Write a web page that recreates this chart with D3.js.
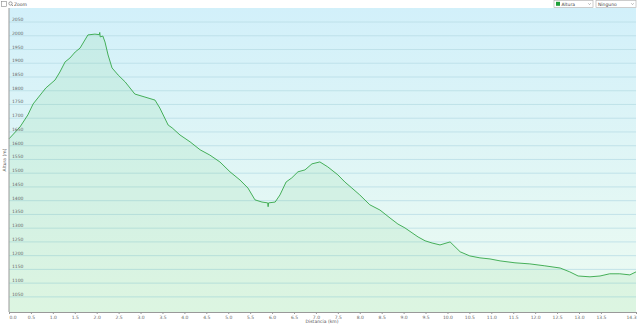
<!DOCTYPE html>
<html>
<head>
<meta charset="utf-8">
<script src="https://cdn.jsdelivr.net/npm/d3@7"></script>
<style>
  body { margin: 0; background: #fff; }
  svg { display: block; font-family: "DejaVu Sans", sans-serif; }
</style>
</head>
<body>
<svg id="chart" width="640" height="324"></svg>
<script>
// profile: distance (km) and altitude (m)
var distancia = [0.00, 0.25, 0.43, 0.55, 0.75, 0.84, 1.05, 1.16, 1.28, 1.39, 1.51, 1.62, 1.80, 1.96, 2.06, 2.07, 2.08,
  2.14, 2.19, 2.26, 2.35, 2.49, 2.65, 2.87, 3.10, 3.33, 3.44, 3.63, 3.72, 3.90, 4.13, 4.36, 4.58, 4.81, 5.04, 5.27,
  5.45, 5.61, 5.77, 5.90, 5.91, 5.92, 6.07, 6.18, 6.32, 6.45, 6.59, 6.75, 6.91, 7.09, 7.27, 7.50, 7.66, 7.82, 8.00, 8.23,
  8.46, 8.69, 8.87, 9.03, 9.33, 9.49, 9.65, 9.83, 10.06, 10.29, 10.51, 10.74, 10.97, 11.20, 11.54, 11.88,
  12.22, 12.57, 12.79, 12.98, 13.25, 13.48, 13.70, 13.93, 14.16, 14.30];
var altura = [1625, 1668, 1712, 1752, 1792, 1810, 1839, 1868, 1905, 1919, 1941, 1955, 2003, 2006, 2004, 2012, 1996,
  1999, 1977, 1930, 1883, 1857, 1832, 1788, 1777, 1766, 1737, 1675, 1665, 1639, 1614, 1585, 1566, 1541, 1505, 1475,
  1446, 1403, 1395, 1392, 1378, 1392, 1395, 1421, 1468, 1483, 1505, 1512, 1534, 1541, 1523, 1494, 1468, 1446, 1421, 1385,
  1366, 1337, 1315, 1301, 1268, 1254, 1246, 1239, 1250, 1214, 1199, 1192, 1188, 1181, 1174, 1170,
  1163, 1155, 1141, 1126, 1123, 1126, 1134, 1134, 1130, 1141];

var yTicks = [1050, 1100, 1150, 1200, 1250, 1300, 1350, 1400, 1450, 1500, 1550, 1600, 1650, 1700, 1750,
  1800, 1850, 1900, 1950, 2000, 2050];
var xTicks = [0, 0.5, 1, 1.5, 2, 2.5, 3, 3.5, 4, 4.5, 5, 5.5, 6, 6.5, 7, 7.5, 8, 8.5, 9, 9.5, 10, 10.5,
  11, 11.5, 12, 12.5, 13, 13.5, 14.3];

var data = distancia.map(function(d, i) { return {d: d, h: altura[i]}; });

var svg = d3.select("#chart");
var pLeft = 9, pRight = 636, pTop = 8, pBottom = 312;

var x = d3.scaleLinear().domain([0, 14.3]).range([pLeft, pRight]);
var y = d3.scaleLinear().domain([995, 2101]).range([pBottom, pTop]);

// background gradient, blue at top to pale green at bottom
var defs = svg.append("defs");
var grad = defs.append("linearGradient").attr("id", "bg").attr("x1", 0).attr("y1", 0).attr("x2", 0).attr("y2", 1);
grad.append("stop").attr("offset", "0%").attr("stop-color", "#d2f0fa");
grad.append("stop").attr("offset", "100%").attr("stop-color", "#edfbf1");

svg.append("rect")
  .attr("x", pLeft).attr("y", pTop)
  .attr("width", pRight - pLeft).attr("height", pBottom - pTop)
  .attr("fill", "url(#bg)");

// horizontal grid
svg.append("g").selectAll("line")
  .data(yTicks)
  .enter().append("line")
  .attr("x1", pLeft).attr("x2", pRight)
  .attr("y1", function(d) { return y(d); })
  .attr("y2", function(d) { return y(d); })
  .attr("stroke", "#b9dde6")
  .attr("stroke-width", 0.8);

// area + line
var area = d3.area()
  .x(function(d) { return x(d.d); })
  .y0(pBottom)
  .y1(function(d) { return y(d.h); });

var line = d3.line()
  .x(function(d) { return x(d.d); })
  .y(function(d) { return y(d.h); });

svg.append("path").datum(data)
  .attr("d", area)
  .attr("fill", "#4cc35a")
  .attr("fill-opacity", 0.1);

svg.append("path").datum(data)
  .attr("d", line)
  .attr("fill", "none")
  .attr("stroke", "#34a748")
  .attr("stroke-width", 0.9);

// y tick labels sit inside the plot, just above each gridline
svg.append("g").selectAll("text")
  .data(yTicks)
  .enter().append("text")
  .attr("x", 12)
  .attr("y", function(d) { return y(d) - 1; })
  .attr("font-size", 4.5)
  .attr("fill", "#666")
  .text(function(d) { return d; });

// axes lines
svg.append("line")
  .attr("x1", pLeft).attr("x2", pLeft).attr("y1", pTop).attr("y2", pBottom)
  .attr("stroke", "#999").attr("stroke-width", 1);

var xAxis = d3.axisBottom(x)
  .tickValues(xTicks)
  .tickSize(2)
  .tickFormat(d3.format(".1f"));

var gx = svg.append("g")
  .attr("transform", "translate(0," + pBottom + ")")
  .call(xAxis);
gx.select(".domain").attr("stroke", "#999");
gx.selectAll(".tick line").attr("stroke", "#999");
gx.selectAll("text")
  .attr("font-size", 4.5)
  .attr("fill", "#666")
  .attr("dy", "0.4em")
  .attr("font-family", "DejaVu Sans, sans-serif");
gx.selectAll(".tick").filter(function(d) { return d === 0; }).select("text").attr("text-anchor", "start");
gx.selectAll(".tick").filter(function(d) { return d === 14.3; }).select("text").attr("text-anchor", "end");

// axis titles
svg.append("text")
  .attr("x", 322).attr("y", 323)
  .attr("text-anchor", "middle")
  .attr("font-size", 4.5)
  .attr("fill", "#555")
  .text("Distancia (km)");

svg.append("text")
  .attr("transform", "translate(6,160) rotate(-90)")
  .attr("text-anchor", "middle")
  .attr("font-size", 4.5)
  .attr("fill", "#555")
  .text("Altura (m)");

// zoom control top left
svg.append("rect").attr("x", 1.5).attr("y", 1.5).attr("width", 5).attr("height", 5)
  .attr("fill", "#fff").attr("stroke", "#888").attr("stroke-width", 0.6);
svg.append("circle").attr("cx", 10.5).attr("cy", 3.5).attr("r", 1.7)
  .attr("fill", "none").attr("stroke", "#666").attr("stroke-width", 0.6);
svg.append("line").attr("x1", 11.7).attr("y1", 4.7).attr("x2", 13).attr("y2", 6)
  .attr("stroke", "#666").attr("stroke-width", 0.7);
svg.append("text").attr("x", 14).attr("y", 5.5).attr("font-size", 4.5).attr("fill", "#444").text("Zoom");

// two dropdowns top right
var selects = [{x: 554, w: 39, label: "Altura", swatch: true}, {x: 596, w: 40, label: "Ninguno", swatch: false}];
var sel = svg.append("g").selectAll("g").data(selects).enter().append("g");
sel.append("rect")
  .attr("x", function(d) { return d.x; }).attr("y", 0.5)
  .attr("width", function(d) { return d.w; }).attr("height", 7)
  .attr("fill", "#fff").attr("stroke", "#aaa").attr("stroke-width", 0.6);
sel.filter(function(d) { return d.swatch; }).append("rect")
  .attr("x", function(d) { return d.x + 2; }).attr("y", 1.8)
  .attr("width", 4).attr("height", 4).attr("fill", "#1fa03a");
sel.append("text")
  .attr("x", function(d) { return d.x + (d.swatch ? 7.5 : 2); }).attr("y", 5.5)
  .attr("font-size", 4.5).attr("fill", "#444")
  .text(function(d) { return d.label; });
sel.append("path")
  .attr("d", function(d) { var cx = d.x + d.w - 3.5; return "M" + (cx - 1.2) + ",3.3L" + cx + ",4.6L" + (cx + 1.2) + ",3.3"; })
  .attr("fill", "none").attr("stroke", "#777").attr("stroke-width", 0.5);
</script>
</body>
</html>
